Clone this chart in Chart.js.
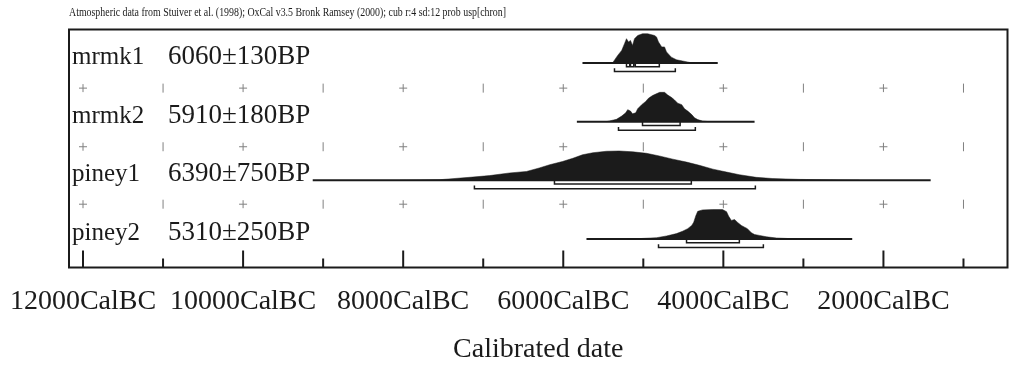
<!DOCTYPE html>
<html>
<head>
<meta charset="utf-8">
<script src="https://cdn.jsdelivr.net/npm/chart.js@4.4.1/dist/chart.umd.min.js"></script>
<style>
    html, body { margin:0; padding:0; background:#fff; }
    #wrap { width:1013px; height:375px; position:relative; }
</style>
</head>
<body>
<div id="wrap"><canvas id="grafico"></canvas></div>
<script>
// ==========================================================
// Dados (anos em cal BC)
// ==========================================================

const TITULO = "Atmospheric data from Stuiver et al. (1998); OxCal v3.5 Bronk Ramsey (2000); cub r:4 sd:12 prob usp[chron]";

const TICK_ANOS = [12000, 11000, 10000, 9000, 8000, 7000, 6000, 5000, 4000, 3000, 2000, 1000];

const AMOSTRAS = ["mrmk1", "mrmk2", "piney1", "piney2"];
const DATAS_BP = ["6060±130BP", "5910±180BP", "6390±750BP", "5310±250BP"];

// linha horizontal de cada amostra
const FAIXA_LINHA = [[5760, 4070], [5830, 3610], [9130, 1410], [5710, 2390]];

// intervalos 68.2% e 95.4%
const FAIXAS_68 = [
    [[5210, 5170], [5160, 5120], [5100, 4800]],
    [[5010, 4540]],
    [[6110, 4400]],
    [[4460, 3800]]
];
const FAIXAS_95 = [
    [[5360, 4600]],
    [[5310, 4350]],
    [[7110, 3600]],
    [[4810, 3500]]
];

// distribuições de probabilidade
const ANOS_MRMK1 = [5460, 5380, 5320, 5270, 5235, 5210, 5185, 5160, 5135, 5110, 5070, 5010, 4945, 4860, 4835, 4810, 4770, 4735, 4710, 4650, 4585, 4510, 4420, 4360];
const PROB_MRMK1 = [0, 0.02, 0.26, 0.43, 0.66, 0.83, 0.72, 0.77, 0.60, 0.83, 0.94, 1.0, 1.0, 0.94, 0.89, 0.72, 0.55, 0.55, 0.38, 0.20, 0.11, 0.07, 0.02, 0];

const ANOS_MRMK2 = [5460, 5335, 5270, 5220, 5195, 5160, 5135, 5095, 5070, 5020, 4970, 4935, 4885, 4845, 4795, 4735, 4695, 4645, 4610, 4570, 4520, 4485, 4445, 4395, 4360, 4320, 4260, 4175];
const PROB_MRMK2 = [0, 0.08, 0.19, 0.30, 0.41, 0.36, 0.27, 0.30, 0.44, 0.58, 0.69, 0.80, 0.89, 0.94, 1.0, 1.0, 0.91, 0.82, 0.74, 0.63, 0.58, 0.44, 0.36, 0.24, 0.13, 0.07, 0.02, 0];

const ANOS_PINEY1 = [8040, 7540, 7130, 6920, 6670, 6460, 6300, 6170, 6010, 5880, 5760, 5630, 5460, 5300, 5130, 4960, 4800, 4630, 4460, 4300, 4130, 3960, 3800, 3590, 3390, 3050, 2550, 2300];
const PROB_PINEY1 = [0, 0.02, 0.11, 0.16, 0.25, 0.30, 0.42, 0.53, 0.64, 0.75, 0.87, 0.94, 0.99, 1.0, 0.97, 0.92, 0.83, 0.72, 0.62, 0.51, 0.38, 0.28, 0.19, 0.10, 0.06, 0.03, 0.01, 0];

const ANOS_PINEY2 = [5200, 5050, 4835, 4710, 4585, 4510, 4445, 4395, 4370, 4345, 4320, 4260, 4135, 4010, 3960, 3935, 3900, 3860, 3825, 3775, 3735, 3700, 3650, 3610, 3550, 3460, 3335, 3085];
const PROB_PINEY2 = [0, 0.01, 0.04, 0.10, 0.18, 0.26, 0.35, 0.46, 0.57, 0.78, 0.94, 0.99, 1.0, 1.0, 0.93, 0.78, 0.63, 0.66, 0.57, 0.46, 0.40, 0.35, 0.21, 0.15, 0.12, 0.07, 0.03, 0];

const ANOS = [ANOS_MRMK1, ANOS_MRMK2, ANOS_PINEY1, ANOS_PINEY2];
const PROBS = [PROB_MRMK1, PROB_MRMK2, PROB_PINEY1, PROB_PINEY2];

// linhas das marcas "+" e "|"
const LINHAS_GRADE = [1.0, 2.0, 2.98];

// ==========================================================
// Layout
// ==========================================================

const PRETO = "#1b1b1b";
const CINZA = "#808080";
const FONTE = "'Liberation Serif', 'Times New Roman', serif";
const ALTURA_PICO = 0.5;

function baseDaLinha(i){
    return i + 0.572;
}

// ==========================================================
// Datasets
// ==========================================================

const datasets = [];

// marcas de grade
const mais = [];
const barras = [];
LINHAS_GRADE.forEach(r=>{
    TICK_ANOS.forEach(ano=>{
        if(ano % 2000 === 0){
            mais.push({x:-ano, y:r});
        }else{
            barras.push({x:-ano, y:r});
        }
    });
});

datasets.push({
    data:mais,
    showLine:false,
    pointStyle:"cross",
    pointRadius:4,
    borderColor:CINZA,
    pointBorderWidth:1
});

datasets.push({
    data:barras,
    showLine:false,
    pointStyle:"line",
    rotation:90,
    pointRadius:4.5,
    borderColor:CINZA,
    pointBorderWidth:1
});

AMOSTRAS.forEach((nome, i)=>{

    const base = baseDaLinha(i);

    // distribuição preenchida
    datasets.push({
        data:ANOS[i].map((ano, k)=>({x:-ano, y:base - PROBS[i][k]*ALTURA_PICO})),
        fill:{value:base},
        backgroundColor:PRETO,
        borderColor:PRETO,
        borderWidth:0.5,
        pointRadius:0,
        tension:0
    });

    // linha base
    datasets.push({
        data:[
            {x:-FAIXA_LINHA[i][0], y:base},
            {x:-FAIXA_LINHA[i][1], y:base}
        ],
        borderColor:PRETO,
        borderWidth:2,
        pointRadius:0
    });

    // 68.2%
    const p68 = [];
    FAIXAS_68[i].forEach(([a, b])=>{
        p68.push({x:-a, y:base}, {x:-a, y:base + 0.065}, {x:-b, y:base + 0.065}, {x:-b, y:base}, {x:-b, y:null});
    });
    datasets.push({
        data:p68,
        borderColor:PRETO,
        borderWidth:1.5,
        pointRadius:0,
        spanGaps:false
    });

    // 95.4%
    const p95 = [];
    FAIXAS_95[i].forEach(([a, b])=>{
        p95.push({x:-a, y:base + 0.09}, {x:-a, y:base + 0.145}, {x:-b, y:base + 0.145}, {x:-b, y:base + 0.09}, {x:-b, y:null});
    });
    datasets.push({
        data:p95,
        borderColor:PRETO,
        borderWidth:1.5,
        pointRadius:0,
        spanGaps:false
    });

});

// ==========================================================
// PLUGIN: moldura, ticks internos, rótulos e título
// ==========================================================

const oxcalPlugin = {

    id:"oxcal",

    afterDraw(chart){

        const {ctx, chartArea} = chart;
        const x = chart.scales.x;
        const y = chart.scales.y;

        ctx.save();

        // ticks para dentro
        ctx.strokeStyle = PRETO;
        ctx.lineWidth = 2;
        x.ticks.forEach(t=>{
            const px = x.getPixelForValue(t.value);
            const comp = (t.value % 2000 === 0) ? 17 : 9;
            ctx.beginPath();
            ctx.moveTo(px, chartArea.bottom);
            ctx.lineTo(px, chartArea.bottom - comp);
            ctx.stroke();
        });

        // moldura
        ctx.strokeRect(chartArea.left, chartArea.top, chartArea.right - chartArea.left, chartArea.bottom - chartArea.top);

        // nomes e datas
        ctx.fillStyle = PRETO;
        ctx.textAlign = "left";
        ctx.textBaseline = "alphabetic";
        AMOSTRAS.forEach((nome, i)=>{
            const py = y.getPixelForValue(baseDaLinha(i)) + 1;
            ctx.font = "25px " + FONTE;
            ctx.fillText(nome, chartArea.left + 3, py);
            ctx.font = "27px " + FONTE;
            ctx.fillText(DATAS_BP[i], 168, py);
        });

        // título (fonte estreita)
        ctx.font = "12px " + FONTE;
        const larg = ctx.measureText(TITULO).width;
        ctx.translate(chartArea.left, 13);
        ctx.scale(437 / larg, 1);
        ctx.textBaseline = "middle";
        ctx.fillText(TITULO, 0, 0);

        ctx.restore();

    }

};

Chart.register(oxcalPlugin);

// ==========================================================
// Gráfico
// ==========================================================

new Chart(document.getElementById("grafico"), {

    type:"line",

    data:{ datasets },

    options:{

        responsive:true,
        maintainAspectRatio:false,
        animation:false,

        layout:{
            padding:{ left:69, right:4, top:29.5, bottom:0 }
        },

        plugins:{
            legend:{ display:false },
            tooltip:{ enabled:false }
        },

        scales:{

            x:{
                type:"linear",
                min:-12175,
                max:-450,
                grid:{ display:false, drawTicks:false },
                border:{ display:false },
                afterBuildTicks:s=>{
                    s.ticks = TICK_ANOS.map(ano=>({value:-ano}));
                },
                afterFit:s=>{
                    s.height = 107.5;
                    s.paddingLeft = 0;
                    s.paddingRight = 0;
                },
                ticks:{
                    autoSkip:false,
                    maxRotation:0,
                    padding:17,
                    color:PRETO,
                    font:{ family:FONTE, size:28 },
                    callback:v=>(v % 2000 === 0) ? (-v) + "CalBC" : ""
                },
                title:{
                    display:true,
                    text:"Calibrated date",
                    color:PRETO,
                    font:{ family:FONTE, size:28 },
                    padding:{ top:0, bottom:9 }
                }
            },

            y:{
                type:"linear",
                display:false,
                reverse:true,
                min:0,
                max:4.06
            }

        }

    }

});
</script>
</body>
</html>
